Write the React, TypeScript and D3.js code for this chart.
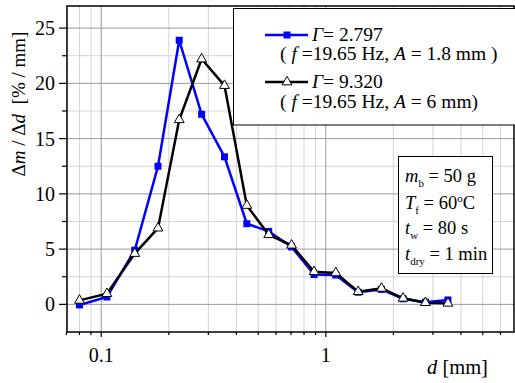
import * as d3 from 'd3';

// sieve mean sizes [mm]
const sizes = [0.08, 0.106, 0.141, 0.179, 0.2225, 0.28, 0.354, 0.445, 0.557, 0.704, 0.887, 1.108, 1.394, 1.77, 2.21, 2.78, 3.5];
// Γ = 2.797 (blue squares)
const lowG = [-0.05, 0.67, 4.9, 12.5, 23.9, 17.2, 13.35, 7.3, 6.6, 5.2, 2.7, 2.65, 1.1, 1.35, 0.5, 0.2, 0.4];
// Γ = 9.320 (black triangles)
const highG = [0.36, 0.97, 4.6, 6.9, 16.7, 22.2, 19.8, 8.95, 6.3, 5.35, 2.95, 2.85, 1.15, 1.45, 0.55, 0.15, 0.1];

const yTicks = [0, 5, 10, 15, 20, 25];
const yMinor = [2.5, 7.5, 12.5, 17.5, 22.5];
const xMajor = [0.1, 1];
const xMinor = [0.07, 0.08, 0.09, 0.2, 0.3, 0.4, 0.5, 0.6, 0.7, 0.8, 0.9, 2, 3, 4, 5, 6];

const W = 515;
const H = 383;
const m = { left: 67, top: 6, right: 514, bottom: 332 };
const font = "'Liberation Serif', 'Times New Roman', serif";

export default function App() {
  const x = d3.scaleLog().domain([0.0704, 6.89]).range([m.left, m.right]);
  const y = d3.scaleLinear().domain([-2.5, 27]).range([m.bottom, m.top]);

  const line = d3
    .line<number>()
    .x((_, i) => x(sizes[i]))
    .y((d) => y(d));

  const tri = d3.symbol(d3.symbolTriangle, 42)()!;

  return (
    <svg
      width={W}
      height={H}
      style={{ position: 'absolute', left: 0, top: 0, background: '#fff', fontFamily: font, fontSize: 19.5 }}
    >
      {/* grid */}
      {xMinor.map((v) => (
        <line key={'xm' + v} x1={x(v)} x2={x(v)} y1={m.top} y2={m.bottom} stroke="#d4d4d4" />
      ))}
      {yMinor.map((v) => (
        <line key={'ym' + v} x1={m.left} x2={m.right} y1={y(v)} y2={y(v)} stroke="#d4d4d4" />
      ))}
      {xMajor.map((v) => (
        <line key={'xM' + v} x1={x(v)} x2={x(v)} y1={m.top} y2={m.bottom} stroke="#9a9a9a" />
      ))}
      {yTicks.map((v) => (
        <line key={'yM' + v} x1={m.left} x2={m.right} y1={y(v)} y2={y(v)} stroke="#9a9a9a" />
      ))}

      {/* axes frame */}
      <rect
        x={m.left}
        y={m.top}
        width={m.right - m.left}
        height={m.bottom - m.top}
        fill="none"
        stroke="#000"
        strokeWidth={1.5}
      />

      {/* y ticks */}
      {yTicks.map((v) => (
        <g key={'yt' + v}>
          <line x1={m.left - 8} x2={m.left} y1={y(v)} y2={y(v)} stroke="#000" strokeWidth={1.2} />
          <text x={m.left - 12} y={y(v)} dy="0.35em" textAnchor="end" fontSize={20}>
            {v}
          </text>
        </g>
      ))}
      {yMinor.map((v) => (
        <line key={'ymt' + v} x1={m.left - 5} x2={m.left} y1={y(v)} y2={y(v)} stroke="#000" strokeWidth={1.2} />
      ))}

      {/* x ticks */}
      {xMinor.map((v) => (
        <line key={'xmt' + v} x1={x(v)} x2={x(v)} y1={m.bottom} y2={m.bottom + 3} stroke="#000" strokeWidth={1.2} />
      ))}
      {xMajor.map((v) => (
        <g key={'xt' + v}>
          <line x1={x(v)} x2={x(v)} y1={m.bottom} y2={m.bottom + 5} stroke="#000" strokeWidth={1.2} />
          <text x={x(v)} y={362} textAnchor="middle" fontSize={20}>
            {v}
          </text>
        </g>
      ))}

      {/* axis titles */}
      <text x={427} y={374} fontSize={20.5}>
        <tspan fontStyle="italic">d</tspan> [mm]
      </text>
      <text transform="translate(25,104) rotate(-90)" textAnchor="middle" fontSize={19}>
        Δ<tspan fontStyle="italic">m</tspan> / Δ<tspan fontStyle="italic">d</tspan>{'\u00a0\u00a0'}[% / mm]
      </text>

      {/* series */}
      <path d={line(lowG)!} fill="none" stroke="#0000ff" strokeWidth={2.5} />
      {lowG.map((v, i) => (
        <rect key={'b' + i} x={x(sizes[i]) - 3.5} y={y(v) - 3.5} width={7} height={7} fill="#0000ff" />
      ))}
      <path d={line(highG)!} fill="none" stroke="#000" strokeWidth={2.5} />
      {highG.map((v, i) => (
        <path
          key={'k' + i}
          d={tri}
          transform={`translate(${x(sizes[i])},${y(v)})`}
          fill="#fff"
          stroke="#000"
          strokeWidth={1}
        />
      ))}

      {/* legend */}
      <rect x={233.5} y={8.5} width={290} height={116.5} fill="#fff" stroke="#000" strokeWidth={1} />
      <line x1={265} x2={308} y1={35} y2={35} stroke="#0000ff" strokeWidth={2.5} />
      <rect x={283.5} y={31.5} width={7} height={7} fill="#0000ff" />
      <text x={312} y={41}>
        <tspan fontStyle="italic">Γ</tspan>= 2.797
      </text>
      <text x={280} y={60}>
        ( <tspan fontStyle="italic">f</tspan> =19.65 Hz, <tspan fontStyle="italic">A</tspan> = 1.8 mm )
      </text>
      <line x1={265} x2={308} y1={82} y2={82} stroke="#000" strokeWidth={2.5} />
      <path d={tri} transform="translate(287,82)" fill="#fff" stroke="#000" strokeWidth={1} />
      <text x={312} y={88}>
        <tspan fontStyle="italic">Γ</tspan>= 9.320
      </text>
      <text x={280} y={108}>
        ( <tspan fontStyle="italic">f</tspan> =19.65 Hz, <tspan fontStyle="italic">A</tspan> = 6 mm)
      </text>

      {/* experiment parameters */}
      <rect x={398.5} y={156.5} width={94} height={117} fill="#fff" stroke="#000" strokeWidth={1} />
      <g fontSize={18.5}>
        <text x={405} y={182}>
          <tspan fontStyle="italic">m</tspan>
          <tspan fontSize={11} dy={5}>b</tspan>
          <tspan dy={-5}> = 50 g</tspan>
        </text>
        <text x={405} y={209}>
          <tspan fontStyle="italic">T</tspan>
          <tspan fontSize={11} dy={5}>f</tspan>
          <tspan dy={-5}> = 60</tspan>
          <tspan fontSize={11} dy={-7}>o</tspan>
          <tspan dy={7}>C</tspan>
        </text>
        <text x={405} y={234}>
          <tspan fontStyle="italic">t</tspan>
          <tspan fontSize={11} dy={5}>w</tspan>
          <tspan dy={-5}> = 80 s</tspan>
        </text>
        <text x={405} y={260}>
          <tspan fontStyle="italic">t</tspan>
          <tspan fontSize={11} dy={5}>dry</tspan>
          <tspan dy={-5}> = 1 min</tspan>
        </text>
      </g>
    </svg>
  );
}
